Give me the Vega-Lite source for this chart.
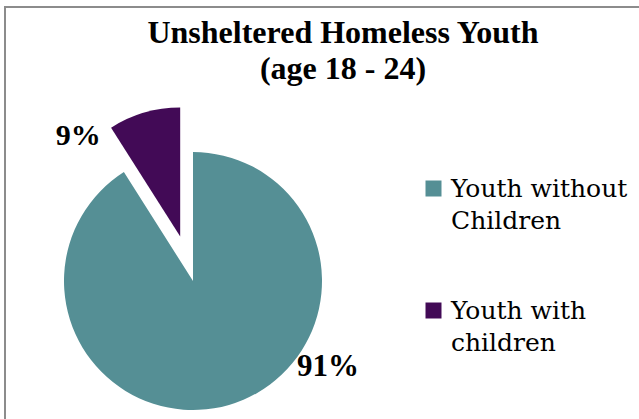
{
  "$schema": "https://vega.github.io/schema/vega-lite/v6.json",
  "width": 640,
  "height": 420,
  "autosize": "none",
  "padding": {"left": 5, "top": 7, "right": 0, "bottom": 0},
  "background": "white",
  "view": {"stroke": "#8c8c8c", "strokeWidth": 2, "fill": "white"},
  "config": {"view": {"stroke": "#8c8c8c", "strokeWidth": 2}},
  "title": {
    "text": ["Unsheltered Homeless Youth", "(age 18 - 24)"],
    "font": "Liberation Serif",
    "fontSize": 32,
    "fontWeight": "bold",
    "color": "#000000",
    "lineHeight": 36,
    "anchor": "middle",
    "dx": 18,
    "offset": -104,
    "baseline": "alphabetic"
  },
  "data": {
    "values": [
      {"group": "Youth without Children", "pct": 91, "label": "91%", "order": 1},
      {"group": "Youth with children", "pct": 9, "label": "9%", "order": 2}
    ]
  },
  "transform": [
    {"stack": "pct", "groupby": [], "sort": [{"field": "order"}], "as": ["p0", "p1"]}
  ],
  "layer": [
    {
      "transform": [{"filter": "datum.group == 'Youth without Children'"}],
      "mark": {"type": "arc", "x": 188, "y": 274, "outerRadius": 129},
      "encoding": {
        "theta": {"field": "p0", "type": "quantitative", "stack": null, "scale": {"domain": [0, 100]}},
        "theta2": {"field": "p1"},
        "color": {
          "field": "group",
          "type": "nominal",
          "scale": {"domain": ["Youth without Children", "Youth with children"], "range": ["#558F95", "#420A56"]},
          "legend": {
            "orient": "none",
            "legendX": 416,
            "legendY": 169,
            "title": null,
            "padding": 0,
            "symbolType": "square",
            "symbolSize": 256,
            "symbolStrokeWidth": 0,
            "labelFont": "DejaVu Serif",
            "labelFontSize": 25,
            "labelColor": "#000000",
            "labelLimit": 400,
            "labelOffset": 5,
            "rowPadding": 64,
            "labelBaseline": "middle",
            "labelExpr": "datum.label == 'Youth without Children' ? ['Youth without', 'Children'] : ['Youth with', 'children']",
            "encode": {"labels": {"update": {"lineHeight": {"value": 32}}}}
          }
        }
      }
    },
    {
      "transform": [{"filter": "datum.group == 'Youth with children'"}],
      "mark": {"type": "arc", "x": 188, "y": 274, "outerRadius": 129, "xOffset": -12.8, "yOffset": -44.4},
      "encoding": {
        "theta": {"field": "p0", "type": "quantitative", "stack": null},
        "theta2": {"field": "p1"},
        "color": {"field": "group", "type": "nominal"}
      }
    },
    {
      "transform": [{"filter": "datum.group == 'Youth with children'"}],
      "mark": {"type": "text", "x": 188, "y": 274, "radius": 172, "align": "right", "baseline": "middle", "font": "Liberation Serif", "fontSize": 30, "fontWeight": "bold", "color": "#000000"},
      "encoding": {
        "theta": {"field": "p0", "type": "quantitative", "stack": null},
        "text": {"field": "label", "type": "nominal"}
      }
    },
    {
      "transform": [{"filter": "datum.group == 'Youth without Children'"}],
      "mark": {"type": "text", "x": 188, "y": 274, "radius": 100, "dx": 107, "dy": -10, "align": "center", "baseline": "middle", "font": "Liberation Serif", "fontSize": 31, "fontWeight": "bold", "color": "#000000"},
      "encoding": {
        "theta": {"field": "pct", "type": "quantitative", "stack": true},
        "text": {"field": "label", "type": "nominal"}
      }
    }
  ]
}
